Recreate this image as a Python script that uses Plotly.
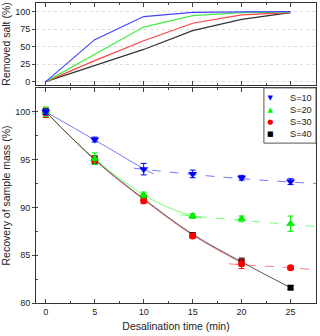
import plotly.graph_objects as go

# desalination time (min)
time = [0, 5, 10, 15, 20, 25]

# removed salt (%) - top panel
salt_s10 = [0, 60, 93, 99, 99.6, 100]
salt_s20 = [0, 39, 78, 94.3, 98.6, 99.3]
salt_s30 = [0, 30, 58.5, 83.4, 95.3, 98.6]
salt_s40 = [0, 23.5, 46, 72.9, 89.1, 98.6]

# recovery of sample mass (%) - bottom panel
mass_s10 = [100, 97.1, 94.0, 93.5, 93.1, 92.7]
err_s10 = [0.3, 0.25, 0.6, 0.4, 0.25, 0.3]
mass_s20 = [100, 95.1, 91.3, 89.1, 88.8, 88.3]
err_s20 = [0.5, 0.6, 0.3, 0.25, 0.3, 0.8]
mass_s30 = [99.9, 94.9, 90.7, 87.0, 84.1, 83.7]
err_s30 = [0.5, 0.4, 0.3, 0.2, 0.5, 0.2]
mass_s40 = [100, 95.0, 91.0, 87.1, 84.3, 81.6]
err_s40 = [0.3, 0.4, 0.3, 0.2, 0.4, 0.2]

# fitted curves
fit_s10_t = [0, 5, 10, 11]
fit_s10_y = [100, 97.05, 94.05, 93.5]
fit_s10_dash_t = [9, 11.7, 15, 20, 25, 27.6]
fit_s10_dash_y = [94.1, 93.8, 93.45, 93.0, 92.65, 92.5]
fit_s20_t = [0, 2.5, 5, 7.5, 10, 12.5, 15, 16]
fit_s20_y = [100, 97.45, 95.1, 93.05, 91.3, 90.0, 89.1, 88.85]
fit_s20_dash_t = [13.7, 15, 20, 25, 27.6]
fit_s20_dash_y = [89.25, 89.1, 88.66, 88.2, 88.0]
fit_s30_t = [0, 5, 10, 15, 20]
fit_s30_y = [100, 94.95, 90.8, 87.1, 84.2]
fit_s30_dash_t = [18.7, 20, 25, 27.6]
fit_s30_dash_y = [84.1, 84.0, 83.7, 83.45]
fit_s40_t = [0, 5, 10, 15, 20, 25]
fit_s40_y = [100, 95.0, 90.9, 87.2, 84.3, 81.6]

labels = ["S=10", "S=20", "S=30", "S=40"]
colors = ["#0000ff", "#00ee00", "#ff0000", "#000000"]
fit_colors = ["#7777ff", "#77ff77", "#ff7777", "#555555"]
top_colors = ["#4444ff", "#44ee44", "#ff4444", "#333333"]
symbols = ["triangle-down", "triangle-up", "circle", "square"]
legend_glyphs = ["\u25BC", "\u25B2", "\u25CF", "\u25A0"]
sizes = [8, 8, 7, 6]

FONT = "Liberation Sans, Arial, sans-serif"

fig = go.Figure()

# top panel lines
for ys, c in zip([salt_s40, salt_s30, salt_s20, salt_s10], top_colors[::-1]):
    fig.add_trace(go.Scatter(x=time, y=ys, mode="lines", line=dict(color=c, width=1.2),
                             showlegend=False, xaxis="x2", yaxis="y2", hoverinfo="skip"))

# bottom panel fit curves
fits = [
    (fit_s10_t, fit_s10_y, fit_colors[0], "solid"),
    (fit_s10_dash_t, fit_s10_dash_y, fit_colors[0], "dash"),
    (fit_s20_t, fit_s20_y, fit_colors[1], "solid"),
    (fit_s20_dash_t, fit_s20_dash_y, fit_colors[1], "dash"),
    (fit_s30_t, fit_s30_y, fit_colors[2], "solid"),
    (fit_s30_dash_t, fit_s30_dash_y, fit_colors[2], "dash"),
    (fit_s40_t, fit_s40_y, fit_colors[3], "solid"),
]
for t, y, c, d in fits:
    fig.add_trace(go.Scatter(x=t, y=y, mode="lines", line=dict(color=c, width=1, dash=d, shape="spline"),
                             showlegend=False, hoverinfo="skip"))

# bottom panel points, S=40 drawn first so S=10 sits on top
series = [mass_s10, mass_s20, mass_s30, mass_s40]
errors = [err_s10, err_s20, err_s30, err_s40]
for i in [3, 2, 1, 0]:
    fig.add_trace(go.Scatter(
        x=time, y=series[i], mode="markers", name=labels[i], showlegend=False,
        marker=dict(symbol=symbols[i], size=sizes[i], color=colors[i], line=dict(width=0)),
        error_y=dict(type="data", array=errors[i], color=colors[i], thickness=1, width=3),
    ))

# compact legend box (plotly's own legend rows are too tall here)
fig.add_shape(type="rect", xref="paper", yref="paper", x0=0.814, x1=1, y0=0.533, y1=0.717,
              line=dict(color="#555", width=1), fillcolor="white", layer="above")
glyph_txt = "<br>".join(
    "<span style='font-family:DejaVu Sans;font-size:7px;color:%s'>%s</span>" % (c, g)
    for c, g in zip(colors, legend_glyphs))
fig.add_annotation(x=0.8525, y=0.6222, xref="paper", yref="paper", text=glyph_txt,
                   showarrow=False, borderpad=0, align="center",
                   font=dict(size=9.2, color="#222", family=FONT))
fig.add_annotation(x=0.9046, y=0.6222, xref="paper", yref="paper", text="<br>".join(labels),
                   xanchor="left", showarrow=False, borderpad=0, align="left",
                   font=dict(size=9.2, color="#222", family=FONT))

axis_common = dict(showline=True, linecolor="#333", linewidth=1,
                   tickfont=dict(size=9, color="#222", family=FONT), zeroline=False)

fig.update_layout(
    width=320, height=336,
    margin=dict(l=36, r=4, t=3, b=33),
    paper_bgcolor="white", plot_bgcolor="white",
    font=dict(family=FONT, color="#222"),
    showlegend=False,
    xaxis=dict(domain=[0, 1], range=[-1, 27.6], tickvals=[0, 5, 10, 15, 20, 25],
               ticks="inside", ticklen=4, minor=dict(dtick=2.5, ticks="inside", ticklen=2),
               showgrid=False, anchor="y", mirror="ticks",
               title=dict(text="Desalination time (min)", font=dict(size=10.5), standoff=6),
               **axis_common),
    yaxis=dict(domain=[0, 0.717], range=[80, 102.5], tickvals=[80, 85, 90, 95, 100],
               ticks="outside", ticklen=3, minor=dict(dtick=2.5, ticks="inside", ticklen=2),
               showgrid=False, anchor="x", mirror=True,
               title=dict(text="Recovery of sample mass (%)", font=dict(size=10.5), standoff=4),
               **axis_common),
    xaxis2=dict(domain=[0, 1], range=[-1, 27.6], tickvals=[0, 5, 10, 15, 20, 25],
                ticks="inside", ticklen=4, minor=dict(dtick=2.5, ticks="inside", ticklen=2),
                showticklabels=False, showgrid=False, anchor="y2", mirror="ticks",
                **axis_common),
    yaxis2=dict(domain=[0.727, 1], range=[-4.7, 112.4], tickvals=[0, 25, 50, 75, 100],
                ticks="outside", ticklen=3, showgrid=True, gridcolor="#dddddd", griddash="dot",
                gridwidth=1, anchor="x2", mirror=True,
                title=dict(text="Removed salt (%)", font=dict(size=10.5), standoff=4),
                **axis_common),
)

fig.write_html("out.html", config={"displayModeBar": False},
               post_script="document.body.style.margin='0';")
